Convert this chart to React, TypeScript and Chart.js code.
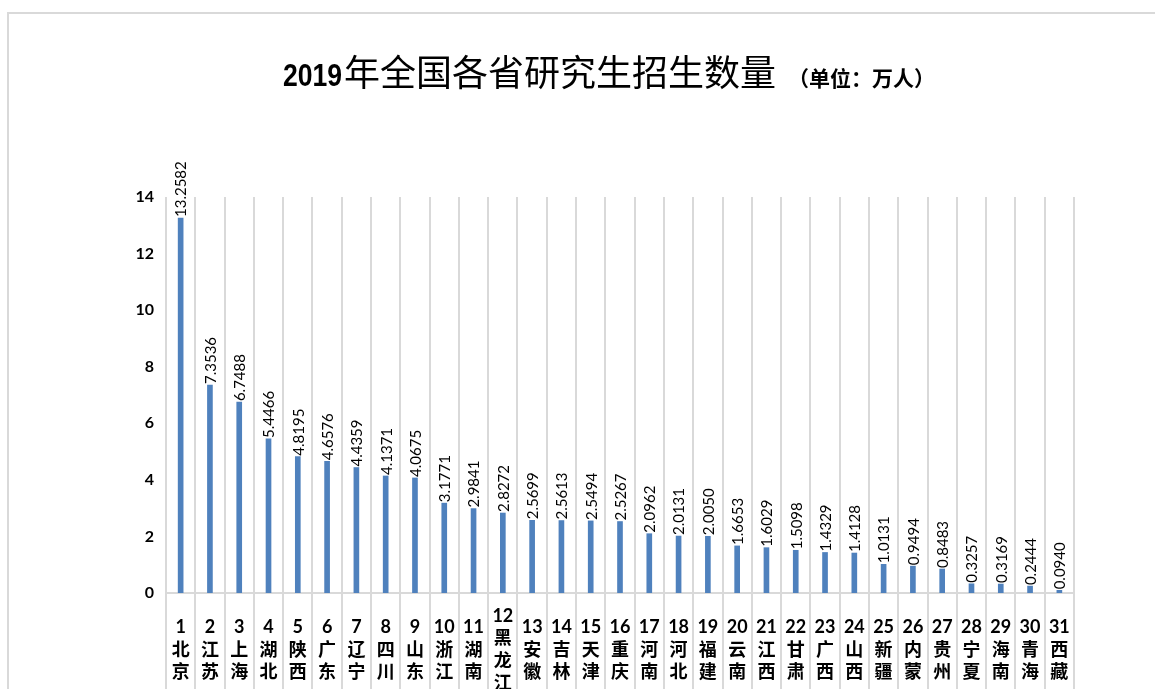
import React, { useEffect, useRef } from "react";
import { Chart, registerables } from "chart.js";

Chart.register(...registerables);

const provinces: string[] = [
  "北京", "江苏", "上海", "湖北", "陕西", "广东", "辽宁", "四川", "山东", "浙江",
  "湖南", "黑龙江", "安徽", "吉林", "天津", "重庆", "河南", "河北", "福建", "云南",
  "江西", "甘肃", "广西", "山西", "新疆", "内蒙", "贵州", "宁夏", "海南", "青海", "西藏",
];

const enrollment: number[] = [
  13.2582, 7.3536, 6.7488, 5.4466, 4.8195, 4.6576, 4.4359, 4.1371, 4.0675, 3.1771,
  2.9841, 2.8272, 2.5699, 2.5613, 2.5494, 2.5267, 2.0962, 2.0131, 2.005, 1.6653,
  1.6029, 1.5098, 1.4329, 1.4128, 1.0131, 0.9494, 0.8483, 0.3257, 0.3169, 0.2444, 0.094,
];

const yTicks: number[] = [0, 2, 4, 6, 8, 10, 12, 14];

const titleYear = "2019";
const titleMain = "年全国各省研究生招生数量";
const titleUnit = "（单位：万人）";

const categoryLabels: string[][] = provinces.map((p, i) => [String(i + 1), ...Array.from(p)]);

const CJK = '"Noto Sans CJK SC"';
const LATIN = 'Lato, "Noto Sans CJK SC", sans-serif';

const titlePlugin = {
  id: "customTitle",
  afterDraw(chart: any) {
    const ctx = chart.ctx;
    ctx.save();
    ctx.fillStyle = "#000";
    ctx.textBaseline = "alphabetic";
    let x = 283;
    const y = 86;
    const sx = 0.83;
    ctx.font = 'bold 32px "Liberation Sans", sans-serif';
    const yw = ctx.measureText(titleYear).width * sx;
    ctx.save();
    ctx.translate(x, y);
    ctx.scale(sx, 1);
    ctx.fillText(titleYear, 0, 0);
    ctx.restore();
    x += yw + 2;
    ctx.font = `normal 36px ${CJK}`;
    ctx.fillText(titleMain, x, y);
    x += ctx.measureText(titleMain).width + 12;
    ctx.font = `bold 21px ${CJK}`;
    ctx.fillText(titleUnit, x, y);
    ctx.restore();
  },
};

const valueLabelPlugin = {
  id: "valueLabels",
  afterDatasetsDraw(chart: any) {
    const ctx = chart.ctx;
    const meta = chart.getDatasetMeta(0);
    const data = chart.data.datasets[0].data as number[];
    ctx.save();
    ctx.fillStyle = "#000";
    ctx.font = `normal 15px ${LATIN}`;
    ctx.textAlign = "left";
    ctx.textBaseline = "middle";
    meta.data.forEach((el: any, i: number) => {
      const v = data[i];
      ctx.save();
      ctx.translate(el.x + 1, el.y - 1);
      ctx.rotate(-Math.PI / 2);
      ctx.fillText(v.toFixed(4), 0, 0);
      ctx.restore();
    });
    ctx.restore();
  },
};

export default function App() {
  const canvasRef = useRef<HTMLCanvasElement | null>(null);

  useEffect(() => {
    document.body.style.margin = "0";
    document.body.style.overflow = "hidden";
    const canvas = canvasRef.current;
    if (!canvas) return;
    const chart = new Chart(canvas, {
      type: "bar",
      data: {
        labels: categoryLabels,
        datasets: [
          {
            label: "研究生招生数量",
            data: enrollment,
            backgroundColor: "#4f81bd",
            barThickness: 5,
          },
        ],
      },
      options: {
        animation: false,
        responsive: false,
        devicePixelRatio: 1,
        layout: { padding: { top: 197, right: 81, left: 0, bottom: 0 } },
        plugins: {
          legend: { display: false },
          title: { display: false },
          tooltip: { enabled: false },
        },
        scales: {
          x: {
            type: "category",
            offset: true,
            grid: {
              offset: true,
              color: "#d9d9d9",
              lineWidth: 2,
              tickLength: 120,
              tickColor: "#d9d9d9",
              tickWidth: 2,
            },
            border: { display: true, color: "#d9d9d9", width: 2 },
            ticks: {
              autoSkip: false,
              maxRotation: 0,
              minRotation: 0,
              padding: -97,
              crossAlign: "center",
              color: "#000",
              font: { family: LATIN, size: 18, weight: "bold", lineHeight: 1.25 },
            },
            afterFit: (s: any) => {
              s.height = 117;
            },
          },
          y: {
            min: 0,
            max: 14,
            afterBuildTicks: (s: any) => {
              s.ticks = yTicks.map((v) => ({ value: v }));
            },
            grid: { display: false, drawTicks: false },
            border: { display: false },
            ticks: {
              padding: 12,
              color: "#000",
              font: { family: LATIN, size: 16, weight: "bold" },
            },
            afterFit: (s: any) => {
              s.width = 166;
            },
          },
        },
      },
      plugins: [titlePlugin, valueLabelPlugin],
    });
    return () => chart.destroy();
  }, []);

  return (
    <div style={{ position: "relative", width: 1155, height: 689, overflow: "hidden", background: "#fff" }}>
      <div
        style={{
          position: "absolute",
          left: 7,
          top: 12,
          width: 1200,
          height: 700,
          borderTop: "2px solid #d9d9d9",
          borderLeft: "2px solid #d9d9d9",
        }}
      />
      <canvas
        ref={canvasRef}
        width={1155}
        height={710}
        style={{ position: "absolute", left: 0, top: 0, width: 1155, height: 710 }}
      />
    </div>
  );
}
